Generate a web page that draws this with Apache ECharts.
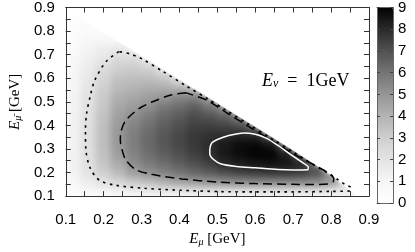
<!DOCTYPE html>
<html><head><meta charset="utf-8">
<script src="https://cdn.jsdelivr.net/npm/echarts@6/dist/echarts.min.js"></script>
<style>
html,body{margin:0;padding:0;background:#fff}
#c{width:415px;height:252px}
/* smooth shading of the density layer only (like an interpolated colour map) */
#c canvas[data-zr-dom-id="zr_0"]{filter:blur(3.5px)}
</style>
</head><body><div id="c"></div>
<script>
// cell centres (GeV)
const xCenters = [0.12,0.16,0.20,0.24,0.28,0.32,0.36,0.40,0.44,0.48,0.52,0.56,0.60,0.64,0.68,0.72,0.76,0.80,0.84,0.88];
const yCenters = [0.12,0.16,0.20,0.24,0.28,0.32,0.36,0.40,0.44,0.48,0.52,0.56,0.60,0.64,0.68,0.72,0.76,0.80,0.84,0.88];
// density rows (one per yCenter, starting at x = 0.12)
const density = [
  [0.4,0.7,1.0,1.2,1.4,1.5,1.6,1.6,1.7,1.8,1.8,1.8,1.8,1.8,1.8,1.8,1.7,1.6,1.6,0.8],
  [0.9,1.5,2.1,2.6,3.1,3.5,4.0,4.4,4.7,4.9,5.1,5.2,5.3,5.3,5.3,5.3,5.2,4.8,2.5],
  [1.1,2.0,2.9,3.7,4.6,5.1,5.5,5.9,6.3,6.6,7.0,7.3,7.5,7.6,7.6,7.5,7.0,5.0],
  [1.2,2.15,3.3,4.3,5.25,5.8,6.2,6.6,7.0,7.4,8.05,8.3,8.5,8.6,8.5,8.1,6.0],
  [1.25,2.2,3.5,4.7,5.55,6.15,6.6,7.0,7.4,7.85,8.4,8.7,8.9,8.9,8.3,6.5],
  [1.25,2.25,3.6,4.9,5.7,6.3,6.8,7.2,7.6,7.95,8.4,8.7,8.8,8.5,6.5],
  [1.25,2.25,3.6,4.95,5.7,6.3,6.8,7.2,7.6,7.8,7.9,8.1,8.0,6.5],
  [1.2,2.2,3.55,4.85,5.55,6.1,6.6,7.0,7.4,7.4,7.3,7.0,6.0],
  [1.2,2.15,3.45,4.65,5.2,5.75,6.3,6.7,7.1,6.9,6.5,5.5],
  [1.15,2.1,3.3,4.4,4.8,5.2,5.85,6.2,6.6,6.0,5.0],
  [1.1,2.05,3.15,4.1,4.4,4.7,5.0,5.5,5.6,4.5],
  [1.0,1.95,2.95,3.75,4.0,4.2,4.2,4.0,3.5],
  [0.95,1.8,2.7,3.4,3.6,3.6,3.3,2.2],
  [0.85,1.6,2.4,3.0,3.1,2.9,2.0],
  [0.75,1.4,1.9,2.5,2.5,1.8],
  [0.6,1.15,1.6,1.9,1.6],
  [0.5,0.9,1.0,1.0],
  [0.35,0.6,0.5],
  [0.25,0.3],
  [0.1]
];
// kinematic edge of the allowed region
const edgeLine = [[0.1,0.895],[0.3,0.695],[0.5,0.495],[0.7,0.295],[0.8,0.19],[0.87,0.1]];
// contours
const contourDotted = [[0.24,0.713],[0.206,0.67],[0.176,0.589],[0.164,0.52],[0.155,0.45],[0.152,0.38],[0.153,0.30],[0.164,0.221],[0.189,0.167],[0.232,0.146],[0.308,0.133],[0.40,0.125],[0.508,0.119],[0.60,0.118],[0.70,0.118],[0.80,0.12],[0.85,0.122],[0.853,0.135],[0.838,0.148],[0.82,0.167],[0.80,0.19],[0.775,0.212],[0.70,0.287],[0.64,0.347],[0.58,0.407],[0.52,0.467],[0.474,0.513],[0.42,0.565],[0.355,0.63],[0.30,0.683],[0.27,0.703],[0.24,0.713]];
const contourDashed = [[0.418,0.538],[0.38,0.53],[0.329,0.50],[0.30,0.478],[0.283,0.459],[0.257,0.418],[0.246,0.375],[0.244,0.337],[0.248,0.30],[0.258,0.255],[0.283,0.214],[0.321,0.194],[0.406,0.173],[0.50,0.16],[0.60,0.153],[0.70,0.15],[0.75,0.149],[0.79,0.151],[0.805,0.16],[0.807,0.175],[0.795,0.195],[0.775,0.215],[0.70,0.28],[0.64,0.338],[0.58,0.398],[0.52,0.458],[0.474,0.505],[0.418,0.538]];
const contourWhite = [[0.48,0.30],[0.485,0.325],[0.50,0.34],[0.53,0.357],[0.57,0.368],[0.60,0.362],[0.63,0.345],[0.66,0.315],[0.69,0.28],[0.72,0.247],[0.74,0.222],[0.738,0.212],[0.70,0.211],[0.66,0.213],[0.60,0.22],[0.55,0.226],[0.51,0.236],[0.49,0.255],[0.48,0.28],[0.48,0.30]];
const xTicks = [0.1,0.9,0.1];   // min, max, step
const cbTicks = [0,9,1];

const cellStep = 0.04;
const cells = [];
density.forEach((row, j) => row.forEach((v, i) => cells.push([xCenters[i], yCenters[j], v])));

const axisCol = '#333';
const labFont = {fontFamily:'Liberation Sans, Arial, sans-serif', fontSize:15, color:'#000'};
const serif = 'Liberation Serif, Times New Roman, serif';
const ZL = 1;

function mainAxis(pos, showLabel, extra) {
  return Object.assign({
    type:'value', gridIndex:0, position:pos, min:xTicks[0], max:xTicks[1], interval:xTicks[2], z:10, zlevel:ZL,
    axisLine:{show:true, onZero:false, lineStyle:{color:axisCol, width:1}},
    axisTick:{show:true, inside:true, length:5, lineStyle:{color:axisCol}},
    minorTick:{show:true, splitNumber:2, length:5, lineStyle:{color:axisCol}},
    splitLine:{show:false},
    axisLabel:Object.assign({show:showLabel, formatter:v=>v.toFixed(1)}, labFont)
  }, extra||{});
}
function cbAxis(pos, showLabel, isY) {
  const a = {
    type:'value', gridIndex:1, position:pos, z:10, zlevel:ZL,
    axisLine:{show:true, onZero:false, lineStyle:{color:'#666', width:1}},
    splitLine:{show:false}
  };
  if (isY) {
    Object.assign(a, {min:cbTicks[0], max:cbTicks[1], interval:cbTicks[2],
      axisTick:{show:true, inside:true, length:3, lineStyle:{color:'#444'}},
      axisLabel:Object.assign({show:showLabel, margin:5}, labFont)});
  } else {
    Object.assign(a, {min:0, max:1, axisTick:{show:false}, axisLabel:{show:false}});
  }
  return a;
}
const nameRich = {
  e:{fontFamily:serif, fontStyle:'italic', fontSize:15, color:'#000'},
  s:{fontFamily:serif, fontStyle:'italic', fontSize:10, verticalAlign:'bottom', color:'#000'},
  n:{fontFamily:serif, fontSize:15, color:'#000'}
};

const chart = echarts.init(document.getElementById('c'), null, {renderer:'canvas'});
chart.setOption({
  animation:false,
  grid:[{left:55, top:7, width:314, height:196, zlevel:ZL}, {left:377, top:7, width:16, height:196, zlevel:ZL}],
  xAxis:[
    mainAxis('bottom', true, {
      name:'{e|E}{s|μ}{n| [GeV]}', nameLocation:'middle', nameGap:26,
      nameTextStyle:{rich:nameRich},
      axisLabel:Object.assign({margin:16, formatter:v=>v.toFixed(1)}, labFont)}),
    mainAxis('top', false),
    cbAxis('bottom', false, false), cbAxis('top', false, false)
  ],
  yAxis:[
    mainAxis('left', true, {
      name:'{e|E}{s|μ̄}{n| [GeV]}', nameLocation:'middle', nameGap:36,
      nameTextStyle:{rich:nameRich},
      axisLabel:Object.assign({margin:11, formatter:v=>v.toFixed(1)}, labFont)}),
    mainAxis('right', false),
    cbAxis('left', false, true), cbAxis('right', true, true)
  ],
  visualMap:{
    type:'continuous', min:cbTicks[0], max:cbTicks[1], seriesIndex:0, dimension:2, zlevel:ZL,
    orient:'vertical', left:377, top:7, itemWidth:16, itemHeight:196, padding:0,
    calculable:false, hoverLink:false, text:null, showLabel:false,
    inRange:{color:['#ffffff','#f6f6f6','#e4e4e4','#cecece','#b3b3b3','#959595','#747474','#505050','#292929','#000000']},
    textStyle:{color:'transparent'}
  },
  graphic:[{
    type:'text', left:262, top:72, z:20, zlevel:ZL,
    style:{text:'{e|E}{s|ν}{n|  =  1GeV}', rich:{
      e:{fontFamily:serif, fontStyle:'italic', fontSize:18, fill:'#000'},
      s:{fontFamily:serif, fontStyle:'italic', fontSize:12, verticalAlign:'bottom', fill:'#000'},
      n:{fontFamily:serif, fontSize:18, fill:'#000'}}}
  }],
  series:[
    {
      type:'custom', xAxisIndex:0, yAxisIndex:0, z:1, zlevel:0, silent:true, data:cells,
      encode:{x:0, y:1},
      renderItem:(params, api) => {
        const x = api.value(0), y = api.value(1), h = cellStep/2;
        const p0 = api.coord([x-h, y+h]), p1 = api.coord([x+h, y-h]);
        return {type:'rect', shape:{x:p0[0]-0.5, y:p0[1]-0.5, width:p1[0]-p0[0]+1, height:p1[1]-p0[1]+1},
                style:{fill:api.visual('color')}};
      }
    },
    {
      // white outside the allowed region and outside the frame
      type:'custom', xAxisIndex:0, yAxisIndex:0, z:2, zlevel:ZL, silent:true, data:[[0.9,0.9]], clip:false,
      renderItem:(params, api) => {
        const pts = edgeLine.map(p => api.coord(p));
        pts.push(api.coord([0.91,0.1]), api.coord([0.91,0.91]), api.coord([0.1,0.91]));
        const a = api.coord([0.1,0.1]), b = api.coord([0.9,0.9]);
        return {type:'group', children:[
          {type:'polygon', shape:{points:pts}, style:{fill:'#fff', shadowBlur:3, shadowColor:'rgba(255,255,255,1)'}},
          {type:'rect', shape:{x:0, y:a[1], width:415, height:60}, style:{fill:'#fff'}},
          {type:'rect', shape:{x:0, y:0, width:a[0], height:252}, style:{fill:'#fff'}},
          {type:'rect', shape:{x:0, y:0, width:415, height:b[1]}, style:{fill:'#fff'}},
          {type:'rect', shape:{x:b[0], y:0, width:8, height:252}, style:{fill:'#fff'}}
        ]};
      }
    },
    {type:'line', xAxisIndex:0, yAxisIndex:0, z:3, zlevel:ZL, data:contourDotted, smooth:0.3, symbol:'none', silent:true,
     lineStyle:{color:'#000', width:1.6, type:[2.5,4.5]}},
    {type:'line', xAxisIndex:0, yAxisIndex:0, z:3, zlevel:ZL, data:contourDashed, smooth:0.3, symbol:'none', silent:true,
     lineStyle:{color:'#000', width:1.5, type:[9,5]}},
    {type:'line', xAxisIndex:0, yAxisIndex:0, z:3, zlevel:ZL, data:contourWhite, smooth:0.3, symbol:'none', silent:true,
     lineStyle:{color:'#fff', width:1.5}}
  ]
});
</script></body></html>
